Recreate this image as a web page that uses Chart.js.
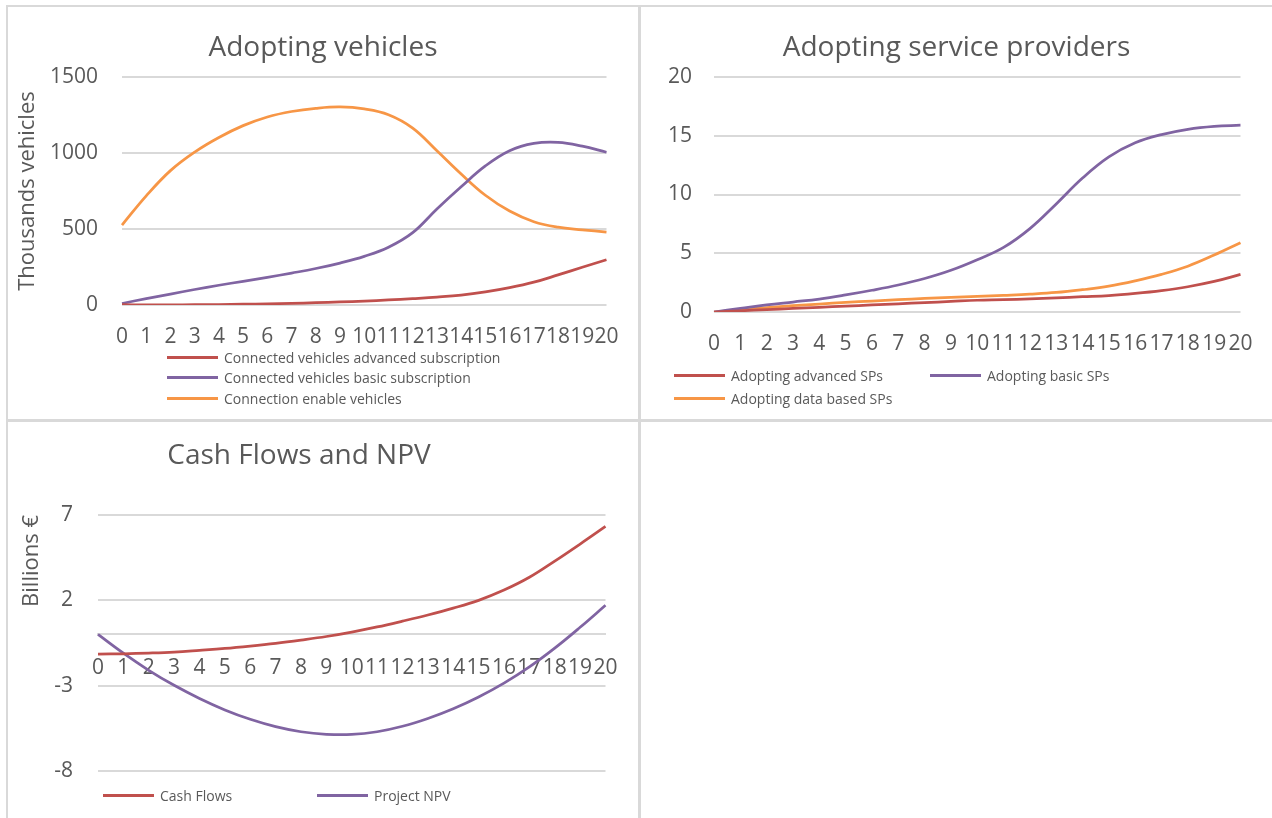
<!DOCTYPE html>
<html><head><meta charset="utf-8">
<script src="https://cdn.jsdelivr.net/npm/chart.js@4.4.1/dist/chart.umd.min.js"></script>
<style>
html,body{margin:0;padding:0;background:#fff;width:1272px;height:818px;overflow:hidden;position:relative;font-family:'Open Sans',sans-serif;}
.line{position:absolute;background:#d9d9d9;}
canvas{position:absolute;}
.legend{position:absolute;display:grid;color:#595959;font-size:14px;}
.legend .item{display:flex;align-items:center;white-space:nowrap;}
.legend .swatch{width:51px;height:3px;margin-right:6px;flex:none;}
</style></head><body>
<div class="line" style="left:6px;top:5px;width:1266px;height:2px"></div>
<div class="line" style="left:6px;top:5px;width:2px;height:813px"></div>
<div class="line" style="left:638px;top:5px;width:3px;height:813px"></div>
<div class="line" style="left:6px;top:419px;width:1266px;height:3px"></div>

<canvas id="c1" width="630" height="412" style="left:8px;top:7px"></canvas>
<canvas id="c2" width="631" height="412" style="left:641px;top:7px"></canvas>
<canvas id="c3" width="630" height="396" style="left:8px;top:422px"></canvas>

<div class="legend" id="l1" style="left:167px;top:347px;grid-template-columns:auto;grid-auto-rows:20.5px"></div>
<div class="legend" id="l2" style="left:674px;top:363.5px;grid-template-columns:256px auto;grid-auto-rows:23px"></div>
<div class="legend" id="l3" style="left:103px;top:783.5px;grid-template-columns:214px auto;grid-auto-rows:23px"></div>

<script>
// ---- data ----
const years = ['0','1','2','3','4','5','6','7','8','9','10','11','12','13','14','15','16','17','18','19','20'];

// Adopting vehicles (thousands)
const vehAdvanced = [2, 1, 1, 2, 3, 5, 8, 11, 15, 20, 26, 33, 42, 52, 65, 86, 114, 150, 198, 248, 298];
const vehBasic    = [10, 42, 72, 102, 130, 156, 182, 210, 240, 276, 320, 380, 476, 632, 778, 915, 1015, 1063, 1070, 1045, 1005];
const vehEnabled  = [526, 718, 884, 1006, 1102, 1180, 1237, 1273, 1294, 1303, 1290, 1252, 1164, 1015, 862, 722, 618, 548, 512, 495, 480];

// Adopting service providers
const spAdvanced  = [0, 0.1, 0.2, 0.3, 0.4, 0.5, 0.6, 0.7, 0.8, 0.9, 1.0, 1.05, 1.12, 1.2, 1.3, 1.4, 1.58, 1.82, 2.15, 2.6, 3.2];
const spBasic     = [0, 0.3, 0.6, 0.85, 1.1, 1.45, 1.85, 2.3, 2.85, 3.55, 4.45, 5.5, 7.1, 9.2, 11.4, 13.2, 14.4, 15.1, 15.55, 15.8, 15.9];
const spData      = [0, 0.2, 0.37, 0.54, 0.68, 0.82, 0.93, 1.05, 1.15, 1.25, 1.33, 1.42, 1.52, 1.66, 1.9, 2.2, 2.65, 3.2, 3.9, 4.85, 5.9];

// Cash flows and NPV (billions €)
const cashFlows   = [-1.15, -1.13, -1.09, -1.03, -0.93, -0.82, -0.68, -0.52, -0.33, -0.12, 0.14, 0.44, 0.78, 1.14, 1.54, 2.0, 2.6, 3.35, 4.3, 5.3, 6.33];
const projectNPV  = [0, -1.1, -2.1, -2.98, -3.75, -4.42, -4.97, -5.4, -5.7, -5.85, -5.86, -5.7, -5.38, -4.92, -4.35, -3.66, -2.85, -1.9, -0.8, 0.42, 1.71];

// y-axis tick settings
const yTicks1 = {min: 0, max: 1500, step: 500};
const yTicks2 = {min: 0, max: 20, step: 5};
const yTicks3 = {min: -8, max: 7, step: 5};

// ---- style ----
const FONT = "'Open Sans', sans-serif";
const TEXT = '#595959';
const GRID = '#d9d9d9';
const RED = '#C0504D', PURPLE = '#8064A2', ORANGE = '#F79646';

function ds(label, data, color) {
  return {label, data, borderColor: color, backgroundColor: color, borderWidth: 2.75,
          pointRadius: 0, pointHoverRadius: 0, tension: 0.4, fill: false};
}

const htmlLegend = {
  id: 'htmlLegend',
  afterUpdate(chart, args, opts) {
    const box = document.getElementById(opts.containerID);
    if (!box) return;
    box.innerHTML = '';
    const items = chart.options.plugins.legend.labels.generateLabels(chart);
    items.forEach(it => {
      const d = document.createElement('div'); d.className = 'item';
      const s = document.createElement('span'); s.className = 'swatch'; s.style.background = it.strokeStyle;
      const t = document.createElement('span'); t.textContent = it.text;
      d.appendChild(s); d.appendChild(t); box.appendChild(d);
    });
  }
};

function build(id, legendId, datasets, c) {
  return new Chart(document.getElementById(id), {
    type: 'line',
    data: {labels: years, datasets},
    plugins: [htmlLegend],
    options: {
      responsive: false, animation: false,
      layout: {padding: c.padding},
      plugins: {
        legend: {display: false},
        tooltip: {enabled: false},
        title: {display: true, text: c.title, color: TEXT,
                font: {family: FONT, size: 28, weight: 'normal'}, padding: c.titlePad},
        htmlLegend: {containerID: legendId}
      },
      scales: {
        x: {
          position: c.xPos || 'bottom',
          grid: {display: false, drawTicks: false},
          border: c.xBorder || {display: false},
          ticks: {color: TEXT, font: {family: FONT, size: 21}, autoSkip: false,
                  maxRotation: 0, minRotation: 0, padding: c.xPad},
          afterFit: s => { s.height = c.xHeight; }
        },
        y: {
          min: c.yt.min, max: c.yt.max,
          ticks: {stepSize: c.yt.step, color: TEXT, font: {family: FONT, size: 21}, padding: c.yPad,
                  callback: v => String(v)},
          grid: {color: GRID, lineWidth: 2, drawTicks: false},
          border: {display: false},
          title: c.yTitle ? {display: true, text: c.yTitle, color: TEXT, align: c.yTitleAlign,
                  font: {family: FONT, size: 22}, padding: {top: c.yTitlePad, bottom: 0}} : {display: false},
          afterFit: s => { s.width = c.yWidth; }
        }
      }
    }
  });
}

build('c1', 'l1', [
  ds('Connected vehicles advanced subscription', vehAdvanced, RED),
  ds('Connected vehicles basic subscription', vehBasic, PURPLE),
  ds('Connection enable vehicles', vehEnabled, ORANGE)
], {
  title: 'Adopting vehicles', titlePad: {top: 24.2, bottom: 12.2},
  padding: {left: 26, right: 26, top: 0, bottom: 54},
  xHeight: 60, xPad: 19.5, yWidth: 88, yPad: 24, yt: yTicks1,
  yTitle: 'Thousands vehicles', yTitleAlign: 'center', yTitlePad: -19
});

build('c2', 'l2', [
  ds('Adopting advanced SPs', spAdvanced, RED),
  ds('Adopting basic SPs', spBasic, PURPLE),
  ds('Adopting data based SPs', spData, ORANGE)
], {
  title: 'Adopting service providers', titlePad: {top: 24.2, bottom: 12.2},
  padding: {left: 27, right: 27, top: 0, bottom: 47},
  xHeight: 60, xPad: 19.5, yWidth: 46, yPad: 22, yt: yTicks2
});

build('c3', 'l3', [
  ds('Cash Flows', cashFlows, RED),
  ds('Project NPV', projectNPV, PURPLE)
], {
  title: 'Cash Flows and NPV', titlePad: {top: 17.2, bottom: 42.2},
  padding: {left: -22, right: 26, top: 0, bottom: 47},
  xPos: {y: 0}, xBorder: {display: true, color: GRID, width: 2},
  xHeight: 0, xPad: 20.5, yWidth: 112, yPad: 25, yt: yTicks3,
  yTitle: 'Billions €', yTitleAlign: 'end', yTitlePad: 33
});
</script>
</body></html>
